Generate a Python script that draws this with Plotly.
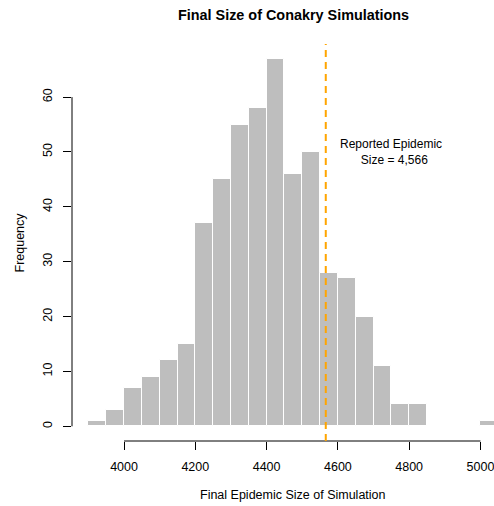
import plotly.graph_objects as go

# Data
bin_start = 3900
bin_width = 50
counts = [1, 3, 7, 9, 12, 15, 37, 45, 55, 58, 67, 46, 50, 28, 27, 20, 11, 4, 4, 0, 0, 0, 1]
x_ticks = [4000, 4200, 4400, 4600, 4800, 5000]
y_ticks = [0, 10, 20, 30, 40, 50, 60]
reported_size = 4566
title = "Final Size of Conakry Simulations"
x_title = "Final Epidemic Size of Simulation"
y_title = "Frequency"
note = "Reported Epidemic<br>\u00a0\u00a0Size = 4,566"

centers = [bin_start + bin_width * (i + 0.5) for i in range(len(counts))]

FONT = "Liberation Sans, Arial, sans-serif"

fig = go.Figure()
fig.add_trace(go.Bar(
    x=centers, y=counts, width=bin_width,
    marker=dict(color="#BEBEBE", line=dict(color="white", width=1)),
    hoverinfo="skip",
))

fig.update_layout(
    width=494, height=506,
    margin=dict(l=72, r=0, t=44, b=65),
    paper_bgcolor="white", plot_bgcolor="white",
    showlegend=False,
    font=dict(family=FONT, size=12, color="black"),
    bargap=0,
)

fig.update_xaxes(
    range=[3854, 5038], tickvals=x_ticks, ticktext=[str(v) for v in x_ticks],
    ticks="outside", ticklen=8, tickcolor="black", tickwidth=1,
    showline=False, showgrid=False, zeroline=False,
    tickfont=dict(size=12.5), ticklabelstandoff=6, ticklabeloverflow="allow",
)
fig.update_yaxes(
    range=[-2.68, 69.68], tickvals=y_ticks, ticktext=[str(v) for v in y_ticks],
    ticks="outside", ticklen=8, tickcolor="black", tickwidth=1,
    showline=False, showgrid=False, zeroline=False,
    tickangle=-90, tickfont=dict(size=12.5), ticklabelstandoff=6,
)

# axis lines spanning tick range (R style)
fig.add_shape(type="line", xref="x", yref="paper", x0=x_ticks[0], x1=x_ticks[-1], y0=0, y1=0,
              line=dict(color="black", width=1))
fig.add_shape(type="line", xref="paper", yref="y", x0=0, x1=0, y0=y_ticks[0], y1=y_ticks[-1],
              line=dict(color="black", width=1))

# reported size line
fig.add_shape(type="line", xref="x", yref="paper", x0=reported_size, x1=reported_size, y0=0, y1=1,
              line=dict(color="#FFA500", width=2, dash="7px,5px"), layer="above")

fig.add_annotation(x=4750, y=50, xref="x", yref="y", text=note, showarrow=False,
                   font=dict(size=12), align="center")

# titles
fig.add_annotation(x=4475, y=1, xref="x", yref="paper", yshift=29, text="<b>" + title + "</b>",
                   showarrow=False, font=dict(size=14.4), yanchor="middle")
fig.add_annotation(x=4475, y=0, xref="x", yref="paper", yshift=-54, text=x_title,
                   showarrow=False, font=dict(size=12.5), yanchor="middle")
fig.add_annotation(x=0, y=0.5, xref="paper", yref="paper", xshift=-53, text=y_title,
                   showarrow=False, font=dict(size=12.5), textangle=-90,
                   xanchor="center", yanchor="middle")

fig.write_html("out.html")
